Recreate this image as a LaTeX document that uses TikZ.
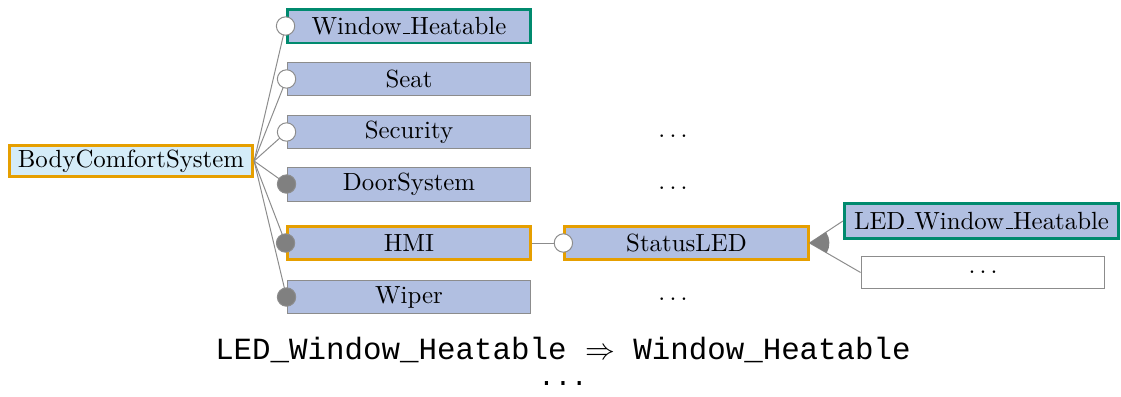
\documentclass[tikz,border=0pt]{standalone}
\usepackage{fontspec}
\newfontfamily\codefont{Liberation Mono}
\usetikzlibrary{calc}
\definecolor{featfill}{HTML}{B1BFE1}
\definecolor{rootfill}{HTML}{D4ECF8}
\definecolor{selorange}{HTML}{E69F00}
\definecolor{selgreen}{HTML}{008A6E}
\definecolor{edgegray}{HTML}{8C8C8C}
\newcommand\usc{\leavevmode\kern.06em\vbox{\hrule width.3em}}

\begin{document}
\begin{tikzpicture}
    \tikzset{
      feat/.style={draw=edgegray, fill=featfill, minimum width=3.45cm,
                   minimum height=0.48cm, inner sep=1pt},
      sel/.style={draw=selorange, line width=1.2pt},
      hit/.style={draw=selgreen, line width=1.2pt},
      edge/.style={draw=edgegray, line width=0.4pt},
      opt/.style={circle, draw=edgegray, fill=white, minimum size=0.26cm, inner sep=0pt},
      man/.style={circle, draw=edgegray, fill=gray, minimum size=0.26cm, inner sep=0pt},
      code/.style={font=\codefont\fontsize{12.4}{15}\selectfont},
    }
    \useasboundingbox (0,0) rectangle (15.856,-5.615);

    \node[feat, sel, fill=rootfill, minimum width=3.44cm, minimum height=0.44cm] (bcs) at (1.853,-2.277) {BodyComfortSystem};

    \node[feat, hit] (wh)   at (5.785,-0.368) {Window\usc Heatable};
    \node[feat]      (seat) at (5.785,-1.117) {Seat};
    \node[feat]      (sec)  at (5.785,-1.867) {Security};
    \node[feat]      (door) at (5.785,-2.603) {DoorSystem};
    \node[feat, sel] (hmi)  at (5.785,-3.437) {HMI};
    \node[feat]      (wip)  at (5.785,-4.201) {Wiper};

    \node (secd)  at (9.519,-1.924) {$\ldots$};
    \node (doord) at (9.519,-2.659) {$\ldots$};
    \node (wipd)  at (9.519,-4.229) {$\ldots$};

    \node[feat, sel, minimum width=3.44cm] (sled) at (9.710,-3.437) {StatusLED};
    \node[feat, hit, minimum width=3.88cm, minimum height=0.49cm] (lwh) at (13.883,-3.126) {LED\usc Window\usc Heatable};
    \node[feat, fill=white, minimum height=0.44cm] (more) at (13.904,-3.854) {$\ldots$};

    % tree edges
    \foreach \c in {wh,seat,sec,door,hmi,wip}
      \draw[edge] (bcs.east) -- (\c.west);
    \draw[edge] (hmi.east) -- (sled.west);
    \draw[edge] (sled.east) -- (lwh.west);
    \draw[edge] (sled.east) -- (more.west);

    % optional / mandatory markers
    \node[opt] (whc)   at (wh.west)   {};
    \node[opt] (seatc) at (seat.west) {};
    \node[opt] (secc)  at (sec.west)  {};
    \node[man] (doorc) at (door.west) {};
    \node[man] (hmic)  at (hmi.west)  {};
    \node[man] (wipc)  at (wip.west)  {};
    \node[opt] (sledc) at (sled.west) {};

    % alternative group
    \fill[gray] let \p1=($(lwh.west)-(sled.east)$), \p2=($(more.west)-(sled.east)$),
                    \n1={atan2(\y1,\x1)}, \n2={atan2(\y2,\x2)} in
      (sled.east) -- ++(\n1:0.28) arc[start angle=\n1, end angle=\n2, radius=0.28] -- cycle;

    \node[code] (rule)  at (7.963,-4.950) {LED\_Window\_Heatable $\Rightarrow$ Window\_Heatable};
    \node[code, font=\codefont\fontsize{11}{13}\selectfont] (ruled) at (7.963,-5.42) {...};
  \end{tikzpicture}
\end{document}
